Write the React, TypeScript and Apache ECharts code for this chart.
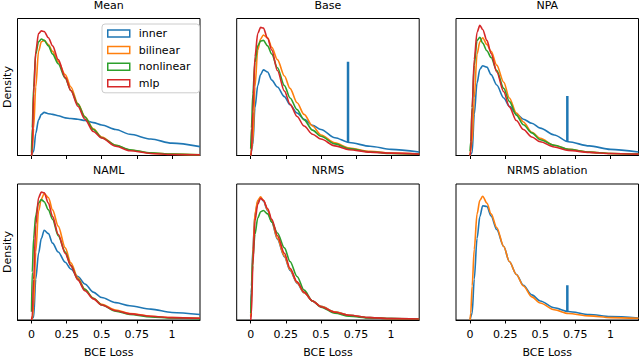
import React, { useEffect, useRef } from "react";
import * as echarts from "echarts";

// BCE loss sample positions (bin centres)
const LOSS = [0, 0.005, 0.015, 0.03, 0.05, 0.07, 0.09, 0.12, 0.15, 0.19, 0.24, 0.28, 0.33, 0.38, 0.44, 0.5, 0.6, 0.7, 0.85, 1.0, 1.2];

const TICKS = [0, 0.25, 0.5, 0.75, 1];
const TICK_LABELS = ["0", "0.25", "0.5", "0.75", "1"];

const MODELS = ["inner", "bilinear", "nonlinear", "mlp"];
const COLORS = ["#1f77b4", "#ff7f0e", "#2ca02c", "#d62728"];

const TITLES = ["Mean", "Base", "NPA", "NAML", "NRMS", "NRMS ablation"];

// Densities per panel
const meanInner = [0, 0, 0.12, 0.64, 1.04, 1.2, 1.26, 1.22, 1.2, 1.16, 1.1, 1.08, 1.06, 1.02, 0.96, 0.89, 0.76, 0.62, 0.48, 0.36, 0.26];
const meanBilinear = [0, 0.12, 0.8, 2.0, 3.04, 3.32, 3.36, 3.24, 3.04, 2.74, 2.36, 2.0, 1.52, 1.14, 0.78, 0.54, 0.3, 0.16, 0.07, 0.04, 0.02];
const meanNonlinear = [0.08, 0.8, 2.0, 2.96, 3.32, 3.4, 3.36, 3.2, 2.96, 2.68, 2.26, 1.9, 1.5, 1.12, 0.76, 0.52, 0.3, 0.17, 0.08, 0.04, 0.02];
const meanMlp = [0, 0.2, 1.8, 3.04, 3.56, 3.64, 3.62, 3.44, 3.2, 2.8, 2.28, 1.9, 1.44, 1.06, 0.7, 0.51, 0.27, 0.14, 0.06, 0.03, 0.02];

const baseInner = [0, 0, 0.32, 1.4, 2.04, 2.36, 2.5, 2.44, 2.2, 2.0, 1.72, 1.48, 1.24, 1.06, 0.88, 0.76, 0.52, 0.38, 0.27, 0.18, 0.1];
const baseBilinear = [0, 0, 0.4, 2.0, 3.08, 3.4, 3.52, 3.44, 3.16, 2.8, 2.32, 1.96, 1.54, 1.2, 0.86, 0.6, 0.37, 0.22, 0.12, 0.07, 0.04];
const baseNonlinear = [0.2, 0.8, 1.8, 2.72, 3.2, 3.34, 3.36, 3.2, 2.96, 2.56, 2.04, 1.68, 1.34, 1.04, 0.74, 0.56, 0.34, 0.2, 0.11, 0.06, 0.04];
const baseMlp = [0, 0.08, 1.28, 2.88, 3.56, 3.74, 3.72, 3.42, 3.08, 2.48, 1.88, 1.5, 1.14, 0.86, 0.62, 0.48, 0.28, 0.17, 0.1, 0.07, 0.04];

const npaInner = [0, 0, 0.08, 1.2, 2.12, 2.52, 2.62, 2.58, 2.36, 2.06, 1.68, 1.44, 1.22, 1.06, 0.94, 0.8, 0.6, 0.4, 0.28, 0.18, 0.1];
const npaBilinear = [0, 0, 0.4, 1.68, 2.96, 3.32, 3.44, 3.24, 3.04, 2.64, 2.14, 1.68, 1.24, 0.98, 0.68, 0.5, 0.3, 0.18, 0.1, 0.06, 0.04];
const npaNonlinear = [0.12, 0.4, 1.4, 2.64, 3.36, 3.45, 3.28, 3.06, 2.86, 2.48, 1.96, 1.58, 1.18, 0.9, 0.66, 0.46, 0.3, 0.18, 0.1, 0.06, 0.04];
const npaMlp = [0, 0.12, 1.4, 2.8, 3.6, 3.8, 3.68, 3.36, 2.98, 2.44, 1.86, 1.42, 1.02, 0.76, 0.54, 0.4, 0.25, 0.15, 0.09, 0.06, 0.04];

const namlInner = [0, 0, 0.08, 1.2, 1.96, 2.4, 2.64, 2.54, 2.26, 2.0, 1.7, 1.5, 1.28, 1.06, 0.82, 0.66, 0.51, 0.42, 0.32, 0.22, 0.16];
const namlBilinear = [0, 0.04, 0.4, 2.0, 3.2, 3.56, 3.72, 3.6, 3.24, 2.76, 2.12, 1.68, 1.24, 0.9, 0.64, 0.46, 0.29, 0.19, 0.11, 0.07, 0.05];
const namlNonlinear = [0.24, 1.4, 2.4, 3.08, 3.44, 3.54, 3.48, 3.24, 2.96, 2.48, 2.0, 1.6, 1.2, 0.9, 0.64, 0.44, 0.26, 0.16, 0.09, 0.06, 0.04];
const namlMlp = [0, 0.12, 1.2, 2.8, 3.6, 3.76, 3.74, 3.44, 3.04, 2.52, 1.96, 1.6, 1.18, 0.86, 0.62, 0.44, 0.27, 0.18, 0.11, 0.07, 0.05];

const nrmsInner = [0.12, 1.0, 2.08, 3.08, 3.48, 3.6, 3.5, 3.22, 2.88, 2.38, 1.86, 1.46, 1.08, 0.8, 0.56, 0.4, 0.24, 0.14, 0.07, 0.04, 0.03];
const nrmsBilinear = [0.08, 0.6, 2.0, 3.12, 3.52, 3.62, 3.52, 3.24, 2.9, 2.4, 1.88, 1.48, 1.1, 0.8, 0.56, 0.4, 0.24, 0.14, 0.07, 0.04, 0.03];
const nrmsNonlinear = [0.2, 0.8, 1.8, 2.52, 3.0, 3.18, 3.22, 3.12, 2.88, 2.56, 2.12, 1.72, 1.28, 0.88, 0.56, 0.38, 0.2, 0.11, 0.06, 0.04, 0.02];
const nrmsMlp = [0, 0.2, 1.6, 2.92, 3.4, 3.58, 3.52, 3.28, 2.96, 2.48, 1.96, 1.52, 1.12, 0.82, 0.56, 0.39, 0.23, 0.14, 0.07, 0.04, 0.03];

const ablationInner = [0, 0, 0.2, 1.2, 2.4, 3.04, 3.36, 3.34, 3.06, 2.66, 2.16, 1.72, 1.34, 1.02, 0.74, 0.56, 0.36, 0.25, 0.16, 0.1, 0.06];
const ablationBilinear = [0, 0.2, 1.0, 2.08, 3.12, 3.52, 3.64, 3.44, 3.12, 2.72, 2.16, 1.72, 1.34, 1.0, 0.68, 0.5, 0.3, 0.19, 0.12, 0.07, 0.05];

// Spike of the "inner" model at BCE = ln 2 (prediction 0.5): [low, high]
const SPIKE_LOSS = 0.693;
const baseSpike = [0.38, 2.74];
const npaSpike = [0.4, 1.74];
const ablationSpike = [0.26, 1.02];

const PANEL_SERIES: (number[] | null)[][] = [
  [meanInner, meanBilinear, meanNonlinear, meanMlp],
  [baseInner, baseBilinear, baseNonlinear, baseMlp],
  [npaInner, npaBilinear, npaNonlinear, npaMlp],
  [namlInner, namlBilinear, namlNonlinear, namlMlp],
  [nrmsInner, nrmsBilinear, nrmsNonlinear, nrmsMlp],
  [ablationInner, ablationBilinear, null, null],
];
const PANEL_SPIKES: (number[] | null)[] = [null, baseSpike, npaSpike, null, null, ablationSpike];

const FONT = "DejaVu Sans";

export default function App() {
  const ref = useRef<HTMLDivElement>(null);
  useEffect(() => {
    document.body.style.margin = "0";
    if (!ref.current) return;
    const chart = echarts.init(ref.current, undefined, { renderer: "svg" });

    const lefts = [17.5, 236.7, 456];
    const tops = [18.5, 184];
    const W = 182.5;
    const H = 137;

    const grids: any[] = [];
    const xAxes: any[] = [];
    const yAxes: any[] = [];
    const titles: any[] = [];
    const series: any[] = [];

    for (let i = 0; i < 6; i++) {
      const row = Math.floor(i / 3);
      const col = i % 3;
      grids.push({
        left: lefts[col],
        top: tops[row],
        width: W,
        height: H,
        show: true,
        borderColor: "#000",
        borderWidth: 1,
        backgroundColor: "transparent",
        containLabel: false,
      });
      titles.push({
        text: TITLES[i],
        left: lefts[col] + W / 2,
        top: row === 0 ? 0 : 164.5,
        textAlign: "center",
        padding: 0,
        textStyle: { fontFamily: FONT, fontSize: 11, fontWeight: "normal", color: "#000" },
      });
      xAxes.push({
        gridIndex: i,
        type: "value",
        min: -0.1,
        max: 1.2,
        axisLine: { show: true, lineStyle: { color: "#000", width: 1 } },
        axisTick: { show: true, customValues: TICKS, length: 3.5, lineStyle: { color: "#000", width: 1 } },
        axisLabel: {
          show: row === 1,
          customValues: TICKS,
          formatter: (v: number) => {
            const k = TICKS.findIndex((t) => Math.abs(t - v) < 1e-9);
            return k >= 0 ? TICK_LABELS[k] : "";
          },
          margin: 9,
          fontFamily: FONT,
          fontSize: 11,
          color: "#000",
        },
        splitLine: { show: false },
        name: row === 1 ? "BCE Loss" : "",
        nameLocation: "middle",
        nameGap: 27,
        nameTextStyle: { fontFamily: FONT, fontSize: 11, color: "#000" },
      });
      yAxes.push({
        gridIndex: i,
        type: "value",
        min: 0,
        max: 4,
        axisLine: { show: false },
        axisTick: { show: false },
        axisLabel: { show: false },
        splitLine: { show: false },
        name: col === 0 ? "Density" : "",
        nameLocation: "middle",
        nameRotate: 90,
        nameGap: 5,
        nameTextStyle: { fontFamily: FONT, fontSize: 11, color: "#000" },
      });
      PANEL_SERIES[i].forEach((vals, m) => {
        if (!vals) return;
        series.push({
          type: "line",
          name: MODELS[m],
          xAxisIndex: i,
          yAxisIndex: i,
          data: LOSS.map((x, j) => [x, vals[j]]),
          showSymbol: false,
          symbol: "none",
          smooth: 0.3,
          smoothMonotone: "x",
          lineStyle: { color: COLORS[m], width: 1.6 },
          itemStyle: { color: COLORS[m] },
          z: 2 + m,
        });
      });
      const sp = PANEL_SPIKES[i];
      if (sp) {
        series.push({
          type: "line",
          name: MODELS[0],
          xAxisIndex: i,
          yAxisIndex: i,
          data: [
            [SPIKE_LOSS, sp[0]],
            [SPIKE_LOSS, sp[1]],
          ],
          showSymbol: false,
          symbol: "none",
          lineStyle: { color: COLORS[0], width: 2.5 },
          itemStyle: { color: COLORS[0] },
          z: 2,
        });
      }
    }

    chart.setOption({
      animation: false,
      textStyle: { fontFamily: FONT },
      title: titles,
      grid: grids,
      xAxis: xAxes,
      yAxis: yAxes,
      legend: {
        left: 102,
        top: 24,
        orient: "vertical",
        selectedMode: false,
        icon: "rect",
        itemWidth: 22,
        itemHeight: 7,
        itemGap: 3.6,
        padding: [3, 9, 3, 5],
        backgroundColor: "rgba(255,255,255,0.8)",
        borderColor: "#cccccc",
        borderWidth: 1,
        borderRadius: 3,
        textStyle: { fontFamily: FONT, fontSize: 11, color: "#000", lineHeight: 13, padding: [0, 0, 0, 4] },
        data: MODELS.map((m, k) => ({
          name: m,
          itemStyle: { color: "#ffffff", borderColor: COLORS[k], borderWidth: 1.5 },
        })),
      },
      series,
    });
    return () => chart.dispose();
  }, []);
  return <div ref={ref} style={{ width: 640, height: 359 }} />;
}
